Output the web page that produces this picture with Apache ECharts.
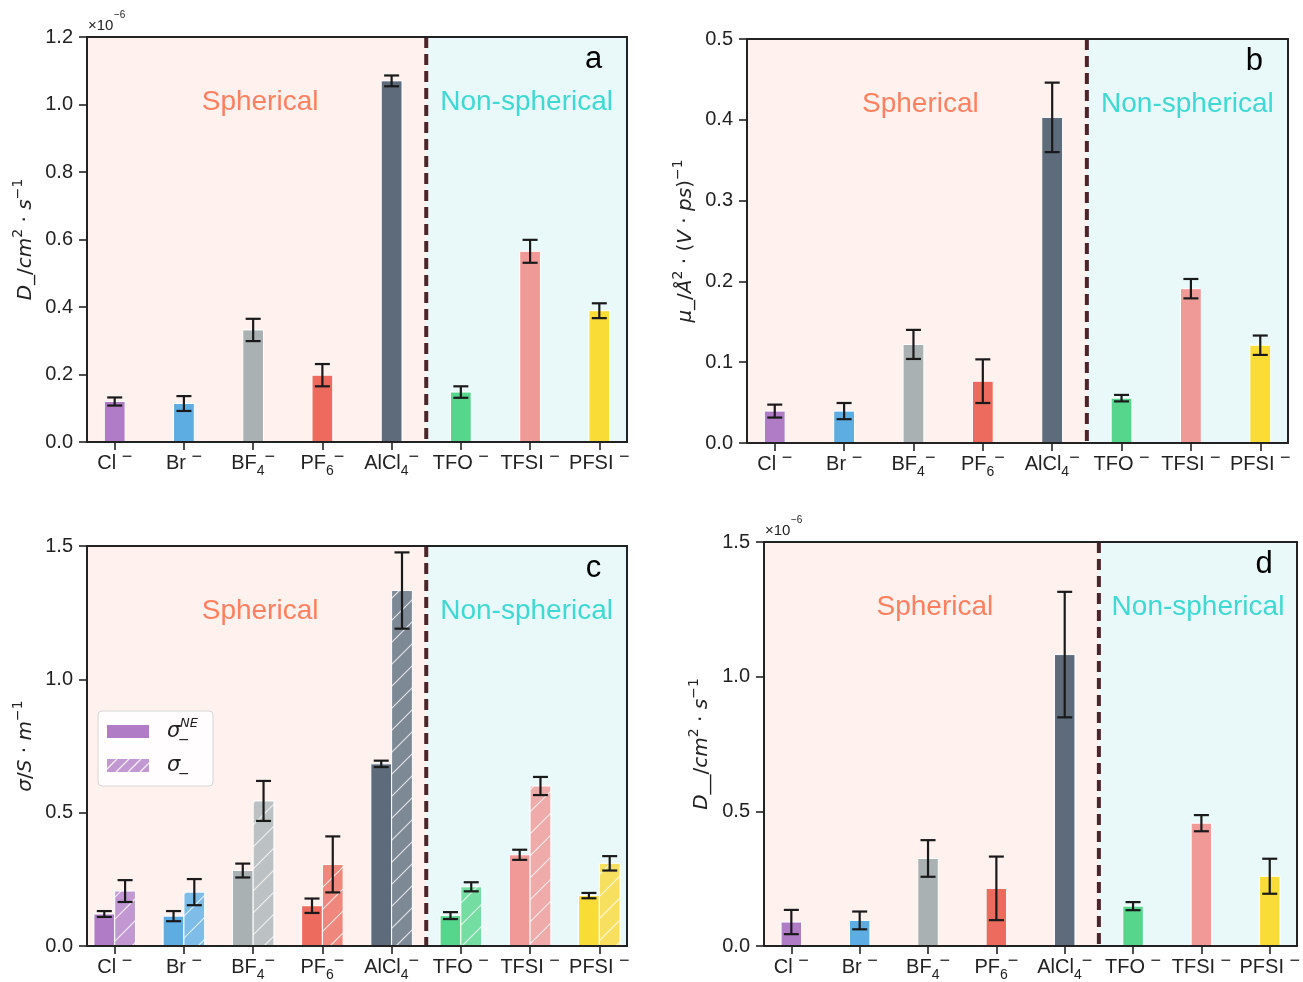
<!DOCTYPE html>
<html>
<head>
<meta charset="utf-8">
<script src="https://cdn.jsdelivr.net/npm/echarts@6/dist/echarts.min.js"></script>
<style>html,body{margin:0;padding:0;background:#fff}#c{width:1303px;height:982px}</style>
</head>
<body>
<div id="c"></div>
<script>
// ---------------- data ----------------
const categories = ['Cl-', 'Br-', 'BF4-', 'PF6-', 'AlCl4-', 'TFO-', 'TFSI-', 'PFSI-'];
const xTickLabels = [
  '{n|Cl }{sup|−}', '{n|Br }{sup|−}', '{n|BF}{sub|4}{sup|−}', '{n|PF}{sub|6}{sup|−}',
  '{n|AlCl}{sub|4}{sup|−}', '{n|TFO }{sup|−}', '{n|TFSI }{sup|−}', '{n|PFSI }{sup|−}'
];
// panel a: diffusion coefficient (x1e-6 cm^2/s)
const diffMean = [0.120, 0.114, 0.332, 0.198, 1.070, 0.148, 0.565, 0.389];
const diffErr  = [0.012, 0.022, 0.033, 0.033, 0.016, 0.017, 0.034, 0.022];
// panel b: mobility
const mobMean = [0.0395, 0.0395, 0.122, 0.0765, 0.403, 0.0555, 0.191, 0.121];
const mobErr  = [0.008, 0.010, 0.018, 0.027, 0.043, 0.004, 0.012, 0.012];
// panel c: conductivity (NE and full)
const condNEMean = [0.120, 0.112, 0.283, 0.151, 0.683, 0.114, 0.342, 0.189];
const condNEErr  = [0.011, 0.019, 0.026, 0.027, 0.012, 0.013, 0.019, 0.010];
const condMean   = [0.206, 0.202, 0.544, 0.306, 1.333, 0.222, 0.600, 0.310];
const condErr    = [0.041, 0.049, 0.075, 0.105, 0.143, 0.017, 0.034, 0.027];
// panel d: distinct diffusion (x1e-6 cm^2/s)
const distMean = [0.089, 0.095, 0.325, 0.214, 1.082, 0.148, 0.456, 0.259];
const distErr  = [0.045, 0.033, 0.068, 0.118, 0.233, 0.015, 0.030, 0.065];

// ---------------- styles / layout ----------------
const solidColors = ['#B07CC6', '#5DADE2', '#AAB1B2', '#EC6B5E', '#5D6B7B', '#55D68C', '#F09A98', '#F9DC35'];
const hatchColors = ['#C298D3', '#7DBDE8', '#BCC2C3', '#F0877C', '#7E8996', '#74DDA2', '#EFAAAA', '#F7E05F'];
const BAR_W = 0.3, GROUP_OFF = 0.15;
const X_MIN = -0.4, X_MAX = 7.4, DIVIDER = 4.5;
const SPH_X = 2.1, NONSPH_X = 5.95, TEXT_FRAC = 0.838;
const INK = '#222222';
const TICK_FONT = 'Liberation Sans';
const MATH_FONT = 'DejaVu Sans';
const xPos = categories.map((_, i) => i);

const nameRich = {
  i: {fontFamily: MATH_FONT, fontStyle: 'italic', fontSize: 20, lineHeight: 30, color: INK},
  n: {fontFamily: MATH_FONT, fontSize: 20, lineHeight: 30, color: INK},
  sup: {fontFamily: MATH_FONT, fontSize: 14, lineHeight: 14, verticalAlign: 'top', color: INK}
};

const panels = [
  {letter: 'a', grid: {left: 87, top: 37, width: 540, height: 405}, ymax: 1.2, interval: 0.2, mult: true, nameGap: 46,
   name: '{i|D}{n|_/}{i|cm}{sup|2}{n| · }{i|s}{sup|−1}',
   bars: [{vals: diffMean, errs: diffErr, off: 0, hatch: false}]},
  {letter: 'b', grid: {left: 747, top: 39, width: 541, height: 404}, ymax: 0.5, interval: 0.1, mult: false, nameGap: 46,
   name: '{i|μ}{n|_/}{i|Å}{sup|2}{n| · (}{i|V}{n| · }{i|ps}{n|)}{sup|−1}',
   bars: [{vals: mobMean, errs: mobErr, off: 0, hatch: false}]},
  {letter: 'c', grid: {left: 87, top: 546, width: 540, height: 405}, ymax: 1.5, interval: 0.5, mult: false, nameGap: 46,
   name: '{i|σ}{n|/}{i|S}{n| · }{i|m}{sup|−1}',
   bars: [{vals: condNEMean, errs: condNEErr, off: -GROUP_OFF, hatch: false},
          {vals: condMean, errs: condErr, off: GROUP_OFF, hatch: true}]},
  {letter: 'd', grid: {left: 764, top: 542, width: 541, height: 405}, ymax: 1.5, interval: 0.5, mult: true, nameGap: 47,
   name: '{i|D}{n|__/}{i|cm}{sup|2}{n| · }{i|s}{sup|−1}',
   bars: [{vals: distMean, errs: distErr, off: 0, hatch: false}]}
];

function hatchLines(r, step, color, lw) {
  const x0 = r.x, y0 = r.y, x1 = r.x + r.width, y1 = r.y + r.height;
  const out = [];
  for (let c = Math.ceil((x0 + y0) / step) * step; c < x1 + y1; c += step) {
    const lo = Math.max(x0, c - y1), hi = Math.min(x1, c - y0);
    if (hi - lo > 0.5) out.push({type: 'line', shape: {x1: lo, y1: c - lo, x2: hi, y2: c - hi},
      style: {stroke: color, lineWidth: lw || 1.2}});
  }
  return out;
}

const grids = [], xAxes = [], yAxes = [], series = [], graphics = [];
const lineStyle = {color: INK, width: 2};

panels.forEach((p, gi) => {
  grids.push(Object.assign({show: false}, p.grid));
  xAxes.push({
    type: 'value', gridIndex: gi, min: X_MIN, max: X_MAX, position: 'bottom', z: 10,
    axisLine: {show: true, onZero: false, lineStyle},
    axisTick: {show: true, customValues: xPos, length: 8, lineStyle: {color: INK, width: 1.6}},
    axisLabel: {show: true, customValues: xPos, margin: 6, formatter: v => xTickLabels[Math.round(v)],
      rich: {
        n: {fontFamily: TICK_FONT, fontSize: 20, lineHeight: 30, color: INK},
        sub: {fontFamily: TICK_FONT, fontSize: 14, lineHeight: 14, verticalAlign: 'bottom', color: INK},
        sup: {fontFamily: TICK_FONT, fontSize: 18, lineHeight: 16, verticalAlign: 'top', color: INK}
      }},
    splitLine: {show: false}
  });
  xAxes.push({
    type: 'value', gridIndex: gi, min: X_MIN, max: X_MAX, position: 'top', z: 10,
    axisLine: {show: true, onZero: false, lineStyle}, axisTick: {show: false}, axisLabel: {show: false}, splitLine: {show: false}
  });
  yAxes.push({
    type: 'value', gridIndex: gi, min: 0, max: p.ymax, interval: p.interval, position: 'left', z: 10,
    axisLine: {show: true, onZero: false, lineStyle},
    axisTick: {show: true, length: 8, lineStyle: {color: INK, width: 1.6}},
    axisLabel: {show: true, margin: 14, fontSize: 20, fontFamily: TICK_FONT, color: INK, formatter: v => v.toFixed(1)},
    splitLine: {show: false},
    name: p.name, nameLocation: 'middle', nameRotate: 90, nameGap: p.nameGap,
    nameTextStyle: {rich: nameRich}
  });
  yAxes.push({
    type: 'value', gridIndex: gi, min: 0, max: p.ymax, interval: p.interval, position: 'right', z: 10,
    axisLine: {show: true, onZero: false, lineStyle}, axisTick: {show: false}, axisLabel: {show: false}, splitLine: {show: false}
  });

  // decorations: shaded regions, divider, region texts, panel letter
  series.push({
    type: 'custom', xAxisIndex: gi * 2, yAxisIndex: gi * 2, z: 1, silent: true,
    data: [[DIVIDER, 0]], encode: {x: 0, y: 1},
    renderItem: (params, api) => {
      const cs = params.coordSys;
      const top = cs.y, h = cs.height;
      const xa = api.coord([X_MIN, 0])[0], xb = api.coord([DIVIDER, 0])[0], xc = api.coord([X_MAX, 0])[0];
      const ty = api.coord([0, p.ymax * TEXT_FRAC])[1];
      return {type: 'group', children: [
        {type: 'rect', shape: {x: xa, y: top, width: xb - xa, height: h}, style: {fill: '#FEF1EE'}},
        {type: 'rect', shape: {x: xb, y: top, width: xc - xb, height: h}, style: {fill: '#E9F9FA'}},
        {type: 'line', shape: {x1: xb, y1: top, x2: xb, y2: top + h},
          style: {stroke: '#4B2529', lineWidth: 4, lineDash: [11, 6]}},
        {type: 'text', style: {text: 'Spherical', x: api.coord([SPH_X, 0])[0], y: ty, align: 'center', verticalAlign: 'middle',
          fill: '#FF7F5E', font: '28px "Liberation Sans"'}},
        {type: 'text', style: {text: 'Non-spherical', x: api.coord([NONSPH_X, 0])[0], y: ty, align: 'center', verticalAlign: 'middle',
          fill: '#3ED9D2', font: '28px "Liberation Sans"'}},
        {type: 'text', style: {text: p.letter, x: cs.x + cs.width * 0.938, y: top + 22, align: 'center', verticalAlign: 'middle',
          fill: '#000', font: '31px "Liberation Sans"'}}
      ]};
    }
  });

  p.bars.forEach(b => {
    series.push({
      type: 'custom', xAxisIndex: gi * 2, yAxisIndex: gi * 2, z: 3,
      data: b.vals.map((v, i) => [i + b.off, v, i]), encode: {x: 0, y: 1},
      renderItem: (params, api) => {
        const x = api.value(0), y = api.value(1), ci = api.value(2);
        const p0 = api.coord([x - BAR_W / 2, y]), p1 = api.coord([x + BAR_W / 2, 0]);
        const r = {x: p0[0], y: p0[1], width: p1[0] - p0[0], height: p1[1] - p0[1]};
        const children = [{type: 'rect', shape: r, style: {fill: b.hatch ? hatchColors[ci] : solidColors[ci]}}];
        if (b.hatch) children.push(...hatchLines(r, 22, 'rgba(255,255,255,0.75)', 1.2));
        children.push({type: 'rect', shape: r, style: {fill: 'none', stroke: '#fff', lineWidth: 1}});
        return {type: 'group', children};
      }
    });
    series.push({
      type: 'custom', xAxisIndex: gi * 2, yAxisIndex: gi * 2, z: 4,
      data: b.vals.map((v, i) => [i + b.off, v, b.errs[i]]), encode: {x: 0, y: 1},
      renderItem: (params, api) => {
        const x = api.value(0), y = api.value(1), e = api.value(2);
        const t = api.coord([x, y + e]), bo = api.coord([x, y - e]);
        const cap = 7.5, st = {stroke: '#1a1a1a', lineWidth: 2.2};
        return {type: 'group', children: [
          {type: 'line', shape: {x1: t[0], y1: t[1], x2: bo[0], y2: bo[1]}, style: st},
          {type: 'line', shape: {x1: t[0] - cap, y1: t[1], x2: t[0] + cap, y2: t[1]}, style: st},
          {type: 'line', shape: {x1: bo[0] - cap, y1: bo[1], x2: bo[0] + cap, y2: bo[1]}, style: st}
        ]};
      }
    });
  });

  if (p.mult) {
    graphics.push({type: 'text', z: 20,
      style: {text: '×10', x: p.grid.left + 1, y: p.grid.top - 4, verticalAlign: 'bottom', font: '15px "Liberation Sans"', fill: INK}});
    graphics.push({type: 'text', z: 20,
      style: {text: '−6', x: p.grid.left + 27, y: p.grid.top - 17, verticalAlign: 'bottom', font: '10px "Liberation Sans"', fill: INK}});
  }
});

// legend for panel c
(function () {
  const g = panels[2].grid;
  const bx = g.left + 11, by = g.top + 165;
  const solid = {x: bx + 9, y: by + 14, width: 42, height: 13};
  const hatch = {x: bx + 9, y: by + 48, width: 42, height: 13};
  const children = [
    {type: 'rect', shape: {x: bx, y: by, width: 115, height: 75, r: 4},
      style: {fill: 'rgba(255,255,255,0.85)', stroke: '#d6d6d6', lineWidth: 1}},
    {type: 'rect', shape: solid, style: {fill: solidColors[0]}},
    {type: 'rect', shape: hatch, style: {fill: hatchColors[0]}},
    ...hatchLines(hatch, 12, 'rgba(255,255,255,0.85)', 1.2),
    {type: 'text', style: {text: 'σ', x: bx + 69, y: by + 21, verticalAlign: 'middle', font: 'italic 21px "DejaVu Sans"', fill: INK}},
    {type: 'text', style: {text: 'NE', x: bx + 82, y: by + 13, verticalAlign: 'middle', font: 'italic 13px "DejaVu Sans"', fill: INK}},
    {type: 'text', style: {text: '−', x: bx + 80, y: by + 29, verticalAlign: 'middle', font: '14px "DejaVu Sans"', fill: INK}},
    {type: 'text', style: {text: 'σ', x: bx + 69, y: by + 55, verticalAlign: 'middle', font: 'italic 21px "DejaVu Sans"', fill: INK}},
    {type: 'text', style: {text: '−', x: bx + 80, y: by + 63, verticalAlign: 'middle', font: '14px "DejaVu Sans"', fill: INK}}
  ];
  children.forEach(c => { c.z = 20; graphics.push(c); });
})();

const chart = echarts.init(document.getElementById('c'), null, {renderer: 'canvas', width: 1303, height: 982});
chart.setOption({
  animation: false,
  backgroundColor: '#ffffff',
  grid: grids, xAxis: xAxes, yAxis: yAxes, series, graphic: graphics
});
</script>
</body>
</html>
